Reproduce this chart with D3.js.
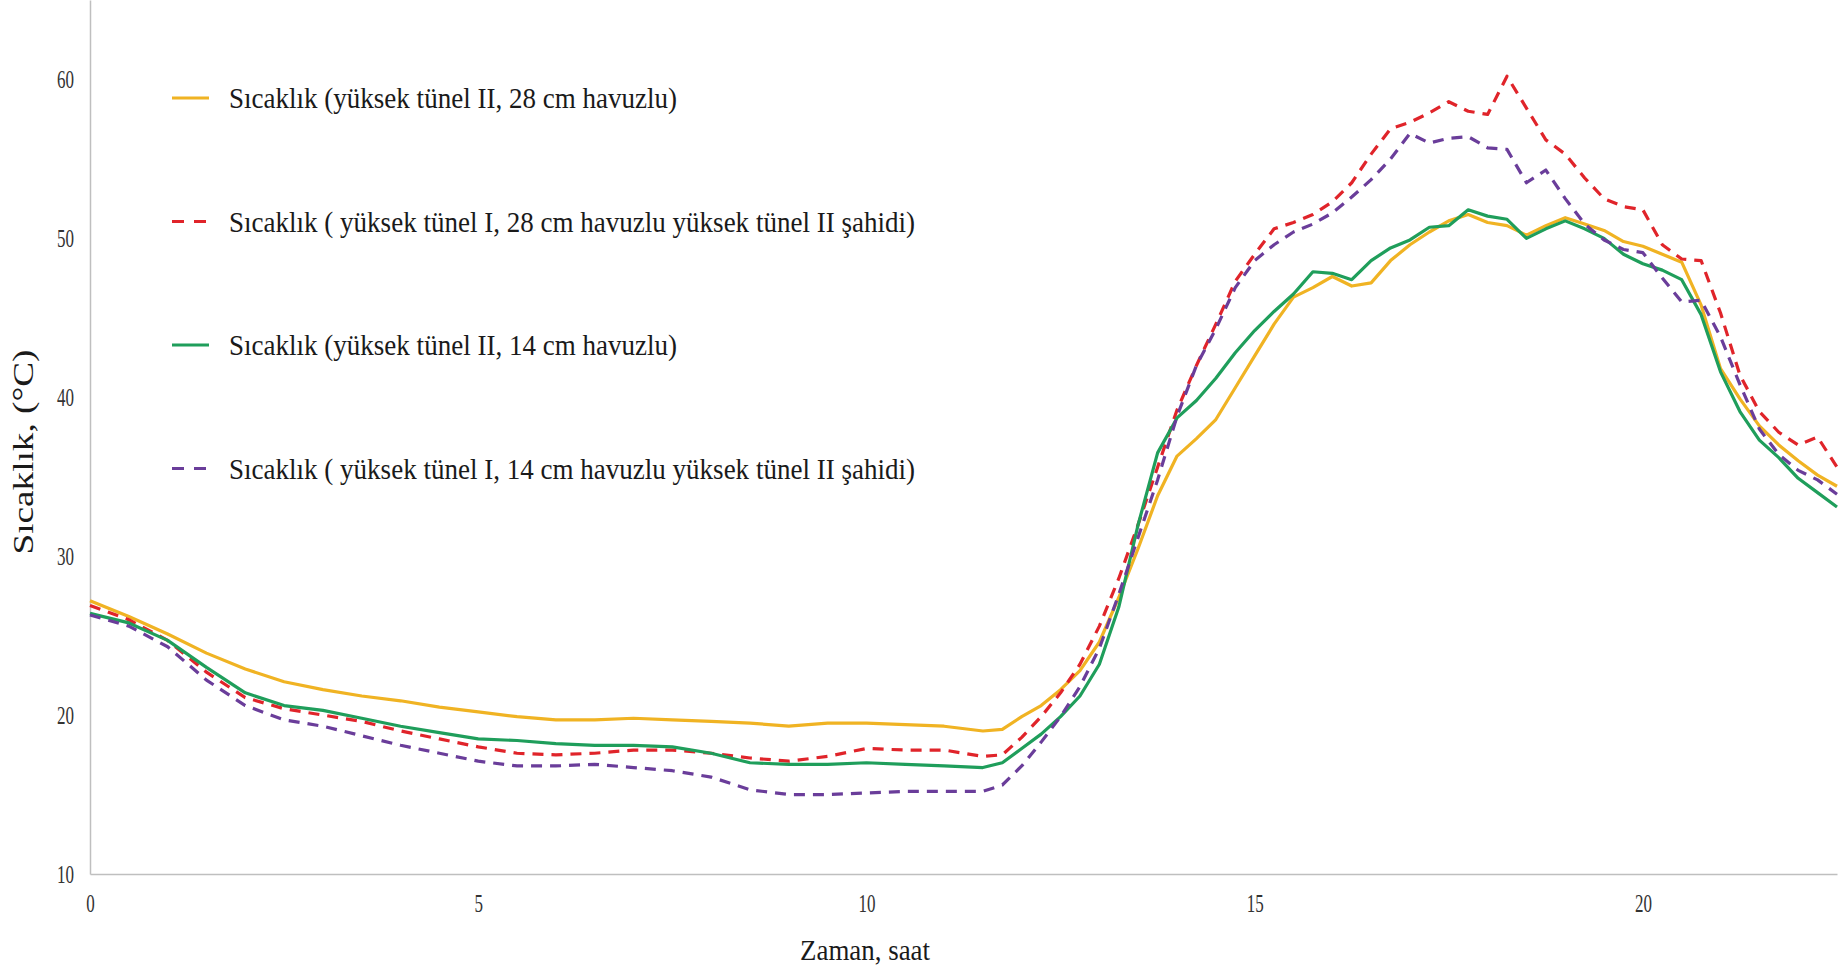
<!DOCTYPE html>
<meta charset="utf-8">
<style>
body { margin:0; background:#fff; }
svg { display:block; font-family:"Liberation Serif", "Times New Roman", serif; }
.axis path { stroke:#bfbfbf; stroke-width:1.5px; }
.axis text { font-family:"Liberation Serif", serif; font-size:25px; fill:#333; }
.series { fill:none; stroke-width:3.2px; stroke-linejoin:round; }
.legend text { font-size:30px; fill:#1a1a1a; }
.title { font-size:29px; fill:#1a1a1a; }
</style>
<body>
<div id="chart"></div>
<script src="https://d3js.org/d3.v7.min.js"></script>
<script>
// time axis (saat)
var hours = [0,0.5,1,1.5,2,2.5,3,3.5,4,4.5,5,5.5,6,6.5,7,7.5,8,8.5,9,9.5,10,10.5,11,11.5,
  11.75,12,12.25,12.5,12.75,13,13.25,13.5,13.75,14,14.25,14.5,14.75,15,15.25,15.5,15.75,16,
  16.25,16.5,16.75,17,17.25,17.5,17.75,18,18.25,18.5,18.75,19,19.25,19.5,19.75,20,20.25,20.5,
  20.75,21,21.25,21.5,21.75,22,22.25,22.5];

// yüksek tünel II, 28 cm havuzlu
var tunel2_28 = [27.2,26.2,25.1,23.9,22.9,22.1,21.6,21.2,20.9,20.5,20.2,19.9,19.7,19.7,19.8,19.7,19.6,19.5,19.3,19.5,19.5,19.4,19.3,19.0,
  19.1,19.9,20.6,21.6,22.8,24.6,27.4,30.5,33.8,36.3,37.4,38.6,40.6,42.6,44.6,46.3,46.9,47.6,
  47.0,47.2,48.6,49.6,50.4,51.1,51.5,51.0,50.8,50.2,50.8,51.3,50.9,50.5,49.8,49.5,49.0,48.5,
  45.8,41.8,39.9,38.2,37.0,36.0,35.1,34.4];

// yüksek tünel I, 28 cm havuzlu (şahit)
var tunel1_28 = [26.9,26.0,24.7,22.7,21.1,20.4,20.0,19.6,19.0,18.5,18.0,17.6,17.5,17.6,17.8,17.8,17.6,17.3,17.1,17.4,17.9,17.8,17.8,17.4,
  17.5,18.6,19.9,21.4,23.2,25.6,28.6,32.0,35.6,39.2,42.0,44.6,47.3,49.0,50.6,51.0,51.5,52.3,
  53.5,55.3,56.9,57.3,57.9,58.6,58.0,57.8,60.2,58.2,56.2,55.3,53.8,52.5,52.0,51.8,49.6,48.7,
  48.6,45.3,41.4,39.1,37.8,37.0,37.5,35.6];

// yüksek tünel II, 14 cm havuzlu
var tunel2_14 = [26.4,25.8,24.7,23.0,21.4,20.6,20.3,19.8,19.3,18.9,18.5,18.4,18.2,18.1,18.1,18.0,17.6,17.0,16.9,16.9,17.0,16.9,16.8,16.7,
  17.0,17.9,18.8,19.9,21.2,23.2,26.8,32.0,36.5,38.7,39.8,41.2,42.8,44.2,45.4,46.5,47.9,47.8,
  47.4,48.6,49.4,49.9,50.7,50.8,51.8,51.4,51.2,50.0,50.6,51.1,50.6,50.0,49.0,48.4,48.0,47.4,
  45.2,41.6,39.1,37.3,36.2,34.9,34.0,33.1];

// yüksek tünel I, 14 cm havuzlu (şahit)
var tunel1_14 = [26.3,25.6,24.3,22.2,20.6,19.7,19.3,18.7,18.1,17.6,17.1,16.8,16.8,16.9,16.7,16.5,16.1,15.3,15.0,15.0,15.1,15.2,15.2,15.2,
  15.6,16.8,18.3,19.9,21.8,24.2,27.6,31.2,34.8,38.8,42.0,44.3,46.9,48.6,49.6,50.4,50.9,51.6,
  52.6,53.7,55.0,56.6,56.0,56.3,56.4,55.7,55.6,53.5,54.3,52.5,50.9,49.9,49.3,49.1,47.5,46.0,
  46.1,43.8,40.8,38.0,36.4,35.4,34.8,33.9];

var seriesNames = [
  "Sıcaklık (yüksek tünel II, 28 cm havuzlu)",
  "Sıcaklık ( yüksek tünel I, 28 cm havuzlu yüksek tünel II şahidi)",
  "Sıcaklık (yüksek tünel II, 14 cm havuzlu)",
  "Sıcaklık ( yüksek tünel I, 14 cm havuzlu yüksek tünel II şahidi)"
];
var seriesValues = [tunel2_28, tunel1_28, tunel2_14, tunel1_14];
var seriesColors = ["#f0b323", "#e0242a", "#1f9e5b", "#6a3d9a"];
var seriesDash = [null, "11,8", null, "11,8"];
var legendWidths = [448, 686, 448, 686];

var xTicks = [0, 5, 10, 15, 20];
var yTicks = [10, 20, 30, 40, 50, 60];

var W = 1845, H = 969;
var margin = {left: 90, right: 8, top: 0, bottom: 95};

var x = d3.scaleLinear().domain([0, 22.5]).range([margin.left, W - margin.right]);
var y = d3.scaleLinear().domain([10, 65]).range([H - margin.bottom, margin.top]);

var svg = d3.select("#chart").append("svg")
    .attr("width", W)
    .attr("height", H);

svg.append("rect").attr("width", W).attr("height", H).attr("fill", "#fff");

// axes
var gx = svg.append("g")
    .attr("class", "axis")
    .attr("transform", "translate(0," + y(10) + ")")
    .call(d3.axisBottom(x).tickValues(xTicks).tickSize(0).tickSizeOuter(0).tickPadding(20));
var gy = svg.append("g")
    .attr("class", "axis")
    .attr("transform", "translate(" + x(0) + ",0)")
    .call(d3.axisLeft(y).tickValues(yTicks).tickSize(0).tickSizeOuter(0).tickPadding(16));

svg.selectAll(".axis text")
    .attr("textLength", function(d) { return String(d).length * 8.5; })
    .attr("lengthAdjust", "spacingAndGlyphs");

// lines
var line = d3.line()
    .x(function(d) { return x(d[0]); })
    .y(function(d) { return y(d[1]); });

seriesValues.forEach(function(vals, i) {
  svg.append("path")
      .datum(hours.map(function(h, j) { return [h, vals[j]]; }))
      .attr("class", "series")
      .attr("stroke", seriesColors[i])
      .attr("stroke-dasharray", seriesDash[i])
      .attr("d", line);
});

// legend
var legend = svg.append("g").attr("class", "legend");
seriesNames.forEach(function(name, i) {
  var ly = 98 + i * 123.5;
  legend.append("line")
      .attr("x1", 172).attr("x2", 209)
      .attr("y1", ly).attr("y2", ly)
      .attr("stroke", seriesColors[i])
      .attr("stroke-width", 3.2)
      .attr("stroke-dasharray", seriesDash[i] ? "12,10" : null);
  legend.append("text")
      .attr("x", 229)
      .attr("y", ly + 10)
      .attr("textLength", legendWidths[i])
      .attr("lengthAdjust", "spacingAndGlyphs")
      .text(name);
});

// axis titles
svg.append("text")
    .attr("class", "title")
    .attr("x", 865)
    .attr("y", 960)
    .attr("text-anchor", "middle")
    .attr("textLength", 130)
    .attr("lengthAdjust", "spacingAndGlyphs")
    .text("Zaman, saat");

svg.append("text")
    .attr("class", "title")
    .attr("transform", "translate(33,452) rotate(-90)")
    .attr("text-anchor", "middle")
    .attr("textLength", 205)
    .attr("lengthAdjust", "spacingAndGlyphs")
    .text("Sıcaklık,  (°C)");
</script>
</body>
